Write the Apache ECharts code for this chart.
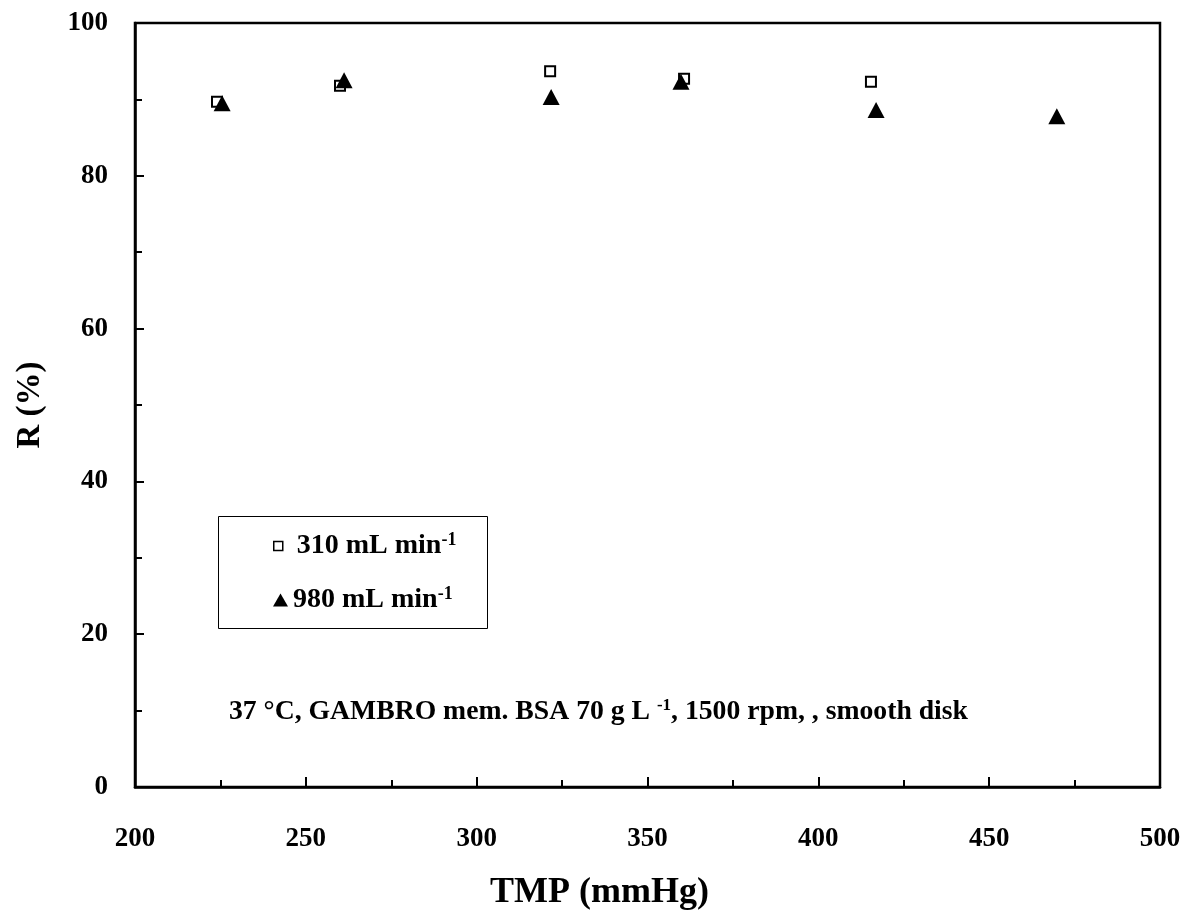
<!DOCTYPE html>
<html>
<head>
<meta charset="utf-8">
<script src="https://cdn.jsdelivr.net/npm/echarts@6/dist/echarts.min.js"></script>
<style>
html,body{margin:0;padding:0;background:#fff;}
#chart{width:1187px;height:918px;}
</style>
</head>
<body>
<div id="chart"></div>
<script>
// Data
const tmp310 = [224, 260, 321.5, 360.7, 415.4];
const r310 = [89.7, 91.8, 93.7, 92.7, 92.3];
const tmp980 = [225.5, 261.2, 321.8, 359.8, 416.9, 469.8];
const r980 = [89.5, 92.5, 90.3, 92.3, 88.6, 87.8];
const xTicks = [200, 250, 300, 350, 400, 450, 500];
const yTicks = [0, 20, 40, 60, 80, 100];
const seriesNames = ['310', '980'];

const FONT = '"Liberation Serif", "Times New Roman", serif';
const chart = echarts.init(document.getElementById('chart'));

const pair = (xs, ys) => xs.map((x, i) => [x, ys[i]]);

const legendRich = {
  t: { fontFamily: FONT, fontWeight: 'bold', fontSize: 28, color: '#000' },
  s: { fontFamily: FONT, fontWeight: 'bold', fontSize: 18, color: '#000', verticalAlign: 'top', padding: [0, 0, 12, 0] }
};

chart.setOption({
  backgroundColor: '#fff',
  animation: false,
  grid: {
    left: 135, right: 27, top: 23, bottom: 131,
    show: true, borderColor: '#000', borderWidth: 2.5, backgroundColor: 'transparent'
  },
  xAxis: {
    type: 'value',
    min: xTicks[0], max: xTicks[xTicks.length - 1], interval: 50,
    name: '',
    axisLine: { show: true, lineStyle: { color: '#000', width: 2.5 } },
    axisTick: { show: true, inside: true, length: 10, lineStyle: { color: '#000', width: 2 } },
    minorTick: { show: true, splitNumber: 2, length: 7, lineStyle: { color: '#000', width: 2 } },
    splitLine: { show: false },
    axisLabel: { margin: 39, fontFamily: FONT, fontWeight: 'bold', fontSize: 27, color: '#000' }
  },
  yAxis: {
    type: 'value',
    min: yTicks[0], max: yTicks[yTicks.length - 1], interval: 20,
    name: 'R (%)', nameLocation: 'middle', nameGap: 88, nameRotate: 90,
    nameTextStyle: { fontFamily: FONT, fontWeight: 'bold', fontSize: 33, color: '#000' },
    axisLine: { show: true, lineStyle: { color: '#000', width: 2.5 } },
    axisTick: { show: true, inside: true, length: 9, lineStyle: { color: '#000', width: 2 } },
    minorTick: { show: true, splitNumber: 2, length: 7, lineStyle: { color: '#000', width: 2 } },
    splitLine: { show: false },
    axisLabel: { margin: 27, fontFamily: FONT, fontWeight: 'bold', fontSize: 27, color: '#000' }
  },
  legend: [
    {
      orient: 'vertical', left: 273, top: 531, padding: 0,
      itemWidth: 9, itemHeight: 9,
      data: [{ name: seriesNames[0], icon: 'rect', itemStyle: { color: '#fff', borderColor: '#000', borderWidth: 1.5 } }],
      formatter: function (name) { return '{t|' + name + ' mL min}{s|-1}'; },
      textStyle: { rich: { t: Object.assign({}, legendRich.t, { padding: [0, 0, 0, 9] }), s: legendRich.s } }
    },
    {
      orient: 'vertical', left: 273, top: 585, padding: 0,
      itemWidth: 15, itemHeight: 13,
      data: [{ name: seriesNames[1], icon: 'triangle', itemStyle: { color: '#000' } }],
      formatter: function (name) { return '{t|' + name + ' mL min}{s|-1}'; },
      textStyle: { rich: legendRich }
    }
  ],
  graphic: [
    {
      type: 'rect', left: 218, top: 516, z: 0,
      shape: { width: 269, height: 112 },
      style: { fill: '#fff', stroke: '#000', lineWidth: 1 }
    },
    {
      type: 'text', left: 229, top: 697, z: 10,
      style: {
        text: '{t|37 °C, GAMBRO mem. BSA 70 g L }{s|-1}{t|, 1500 rpm, , smooth disk}',
        rich: {
          t: { fontFamily: FONT, fontWeight: 'bold', fontSize: 27.7, fill: '#000' },
          s: { fontFamily: FONT, fontWeight: 'bold', fontSize: 17, fill: '#000', verticalAlign: 'top', padding: [0, 0, 12, 0] }
        }
      }
    },
    {
      type: 'text', left: 490, top: 875, z: 10,
      style: { text: 'TMP (mmHg)', fontFamily: FONT, fontWeight: 'bold', fontSize: 36, fill: '#000' }
    }
  ],
  series: [
    {
      name: seriesNames[0], type: 'scatter',
      data: pair(tmp310, r310),
      symbol: 'rect', symbolSize: 10,
      itemStyle: { color: '#fff', borderColor: '#000', borderWidth: 2, opacity: 1 },
      z: 2
    },
    {
      name: seriesNames[1], type: 'scatter',
      data: pair(tmp980, r980),
      symbol: 'triangle', symbolSize: [17, 16],
      itemStyle: { color: '#000', opacity: 1 },
      z: 3
    }
  ]
});
</script>
</body>
</html>
